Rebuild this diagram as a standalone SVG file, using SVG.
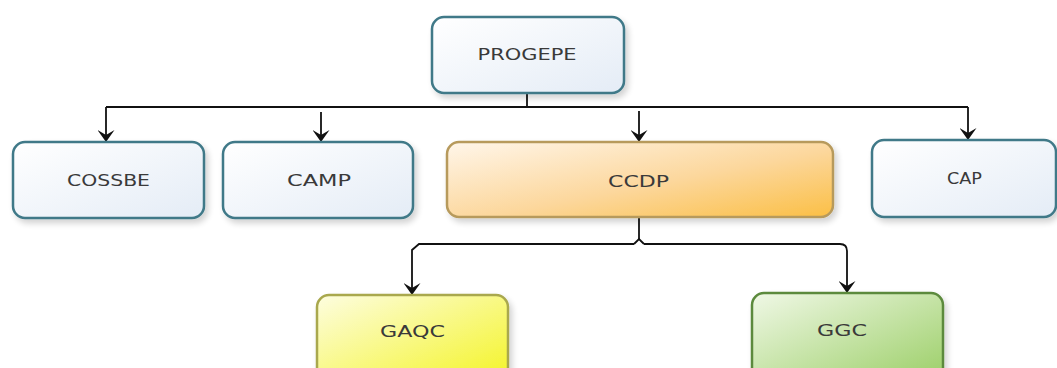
<svg xmlns="http://www.w3.org/2000/svg" width="1057" height="368" viewBox="0 0 1057 368">
<defs>
<linearGradient id="gBlue" x1="0" y1="0" x2="1" y2="1"><stop offset="0" stop-color="#ffffff"/><stop offset="1" stop-color="#e4ecf6"/></linearGradient>
<linearGradient id="gOrange" x1="0" y1="0" x2="1" y2="1"><stop offset="0" stop-color="#fff6ea"/><stop offset="0.55" stop-color="#fcd79c"/><stop offset="1" stop-color="#fbbf45"/></linearGradient>
<linearGradient id="gYellow" x1="0" y1="0" x2="1" y2="1"><stop offset="0" stop-color="#fdfde0"/><stop offset="1" stop-color="#f4f428"/></linearGradient>
<linearGradient id="gGreen" x1="0" y1="0" x2="1" y2="1"><stop offset="0" stop-color="#f0f8e6"/><stop offset="1" stop-color="#9ccf68"/></linearGradient>
<filter id="sh" x="-10%" y="-10%" width="125%" height="130%"><feGaussianBlur in="SourceAlpha" stdDeviation="3"/><feOffset dx="3" dy="4"/><feComponentTransfer><feFuncA type="linear" slope="0.18"/></feComponentTransfer><feMerge><feMergeNode/><feMergeNode in="SourceGraphic"/></feMerge></filter>
<marker id="arr" viewBox="0 0 12 17" refX="12" refY="8.5" markerWidth="12" markerHeight="17" markerUnits="userSpaceOnUse" orient="auto"><path d="M0,0 L5,8.5 L0,17 L12,8.5 Z" fill="#111"/></marker>
</defs>
<style>
.box{stroke-width:2.5;filter:url(#sh)}
.blue{fill:url(#gBlue);stroke:#3f7988}
.orange{fill:url(#gOrange);stroke:#b79a5c}
.yellow{fill:url(#gYellow);stroke:#a9a84e}
.green{fill:url(#gGreen);stroke:#5b8a3c}
.lbl{font-family:"DejaVu Sans",sans-serif;font-size:15px;fill:#3a3a3a;text-anchor:middle;dominant-baseline:central}
.ln{fill:none;stroke:#111;stroke-width:1.8}
</style>
<rect width="1057" height="368" fill="#ffffff"/>
<g id="connectors">
<path class="ln" d="M527,93 V107"/>
<path class="ln" d="M106,107 H968"/>
<path class="ln" d="M106,107 V142" marker-end="url(#arr)"/>
<path class="ln" d="M321,112 V142" marker-end="url(#arr)"/>
<path class="ln" d="M639,111 V142" marker-end="url(#arr)"/>
<path class="ln" d="M968,107 V140" marker-end="url(#arr)"/>
<path class="ln" d="M639,218 V240"/>
<path class="ln" d="M634,244 L639,239 L644,244"/>
<path class="ln" d="M634,244 H419 L412,250 V295" marker-end="url(#arr)"/>
<path class="ln" d="M644,244 H840 Q847,244 847,251 V293" marker-end="url(#arr)"/>
</g>
<g id="n-progepe"><rect class="box blue" x="432" y="17" width="192" height="76" rx="12"/><text class="lbl" x="527" y="55" textLength="99" lengthAdjust="spacingAndGlyphs">PROGEPE</text></g>
<g id="n-cossbe"><rect class="box blue" x="13" y="142" width="191" height="76" rx="12"/><text class="lbl" x="108.5" y="181" textLength="83" lengthAdjust="spacingAndGlyphs">COSSBE</text></g>
<g id="n-camp"><rect class="box blue" x="223" y="142" width="190" height="76" rx="12"/><text class="lbl" x="319" y="181" textLength="64" lengthAdjust="spacingAndGlyphs">CAMP</text></g>
<g id="n-ccdp"><rect class="box orange" x="447" y="142" width="386" height="75" rx="12"/><text class="lbl" x="638.5" y="182" textLength="61" lengthAdjust="spacingAndGlyphs">CCDP</text></g>
<g id="n-cap"><rect class="box blue" x="872" y="140" width="184" height="77" rx="12"/><text class="lbl" x="964.5" y="178.5" textLength="35" lengthAdjust="spacingAndGlyphs">CAP</text></g>
<g id="n-gaqc"><rect class="box yellow" x="317" y="295" width="191" height="85" rx="12"/><text class="lbl" x="412.5" y="332" textLength="65" lengthAdjust="spacingAndGlyphs">GAQC</text></g>
<g id="n-ggc"><rect class="box green" x="752" y="293" width="191" height="87" rx="12"/><text class="lbl" x="842" y="331" textLength="50" lengthAdjust="spacingAndGlyphs">GGC</text></g>
</svg>
